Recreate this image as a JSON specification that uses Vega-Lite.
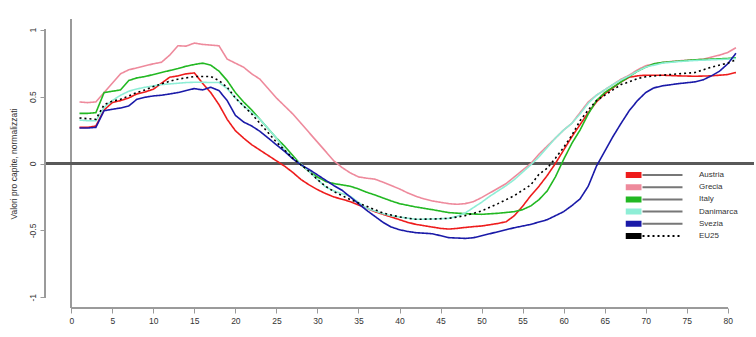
{
  "$schema": "https://vega.github.io/schema/vega-lite/v6.json",
  "width": 709,
  "height": 289,
  "autosize": {"type": "none"},
  "padding": {"left": 45, "top": 19, "right": 2, "bottom": 29},
  "background": "white",
  "config": {
    "view": {"stroke": null},
    "font": "Liberation Sans",
    "axis": {"labelFont": "Liberation Sans", "titleFont": "Liberation Sans"},
    "legend": {"labelFont": "Liberation Sans"}
  },
  "data": {"values": [
    {"s":"Austria","x":1,"y":0.27},{"s":"Austria","x":2,"y":0.27},{"s":"Austria","x":3,"y":0.28},{"s":"Austria","x":4,"y":0.40},{"s":"Austria","x":5,"y":0.455},{"s":"Austria","x":6,"y":0.47},{"s":"Austria","x":7,"y":0.49},{"s":"Austria","x":8,"y":0.52},{"s":"Austria","x":9,"y":0.535},{"s":"Austria","x":10,"y":0.555},{"s":"Austria","x":11,"y":0.60},{"s":"Austria","x":12,"y":0.645},{"s":"Austria","x":13,"y":0.655},{"s":"Austria","x":14,"y":0.67},{"s":"Austria","x":15,"y":0.677},{"s":"Austria","x":16,"y":0.60},{"s":"Austria","x":17,"y":0.53},{"s":"Austria","x":18,"y":0.44},{"s":"Austria","x":19,"y":0.33},{"s":"Austria","x":20,"y":0.245},{"s":"Austria","x":21,"y":0.19},{"s":"Austria","x":22,"y":0.14},{"s":"Austria","x":23,"y":0.10},{"s":"Austria","x":24,"y":0.06},{"s":"Austria","x":25,"y":0.02},{"s":"Austria","x":26,"y":-0.02},{"s":"Austria","x":27,"y":-0.067},{"s":"Austria","x":28,"y":-0.12},{"s":"Austria","x":29,"y":-0.16},{"s":"Austria","x":30,"y":-0.195},{"s":"Austria","x":31,"y":-0.225},{"s":"Austria","x":32,"y":-0.25},{"s":"Austria","x":33,"y":-0.267},{"s":"Austria","x":34,"y":-0.285},{"s":"Austria","x":35,"y":-0.31},{"s":"Austria","x":36,"y":-0.335},{"s":"Austria","x":37,"y":-0.36},{"s":"Austria","x":38,"y":-0.38},{"s":"Austria","x":39,"y":-0.40},{"s":"Austria","x":40,"y":-0.42},{"s":"Austria","x":41,"y":-0.44},{"s":"Austria","x":42,"y":-0.455},{"s":"Austria","x":43,"y":-0.465},{"s":"Austria","x":44,"y":-0.475},{"s":"Austria","x":45,"y":-0.485},{"s":"Austria","x":46,"y":-0.49},{"s":"Austria","x":47,"y":-0.485},{"s":"Austria","x":48,"y":-0.478},{"s":"Austria","x":49,"y":-0.472},{"s":"Austria","x":50,"y":-0.467},{"s":"Austria","x":51,"y":-0.458},{"s":"Austria","x":52,"y":-0.448},{"s":"Austria","x":53,"y":-0.435},{"s":"Austria","x":54,"y":-0.39},{"s":"Austria","x":55,"y":-0.32},{"s":"Austria","x":56,"y":-0.24},{"s":"Austria","x":57,"y":-0.17},{"s":"Austria","x":58,"y":-0.09},{"s":"Austria","x":59,"y":0.0},{"s":"Austria","x":60,"y":0.10},{"s":"Austria","x":61,"y":0.20},{"s":"Austria","x":62,"y":0.29},{"s":"Austria","x":63,"y":0.38},{"s":"Austria","x":64,"y":0.46},{"s":"Austria","x":65,"y":0.52},{"s":"Austria","x":66,"y":0.565},{"s":"Austria","x":67,"y":0.61},{"s":"Austria","x":68,"y":0.645},{"s":"Austria","x":69,"y":0.655},{"s":"Austria","x":70,"y":0.66},{"s":"Austria","x":72,"y":0.66},{"s":"Austria","x":74,"y":0.655},{"s":"Austria","x":76,"y":0.652},{"s":"Austria","x":78,"y":0.655},{"s":"Austria","x":80,"y":0.665},{"s":"Austria","x":81,"y":0.68},

    {"s":"Grecia","x":1,"y":0.46},{"s":"Grecia","x":2,"y":0.455},{"s":"Grecia","x":3,"y":0.46},{"s":"Grecia","x":4,"y":0.53},{"s":"Grecia","x":5,"y":0.60},{"s":"Grecia","x":6,"y":0.67},{"s":"Grecia","x":7,"y":0.70},{"s":"Grecia","x":8,"y":0.715},{"s":"Grecia","x":9,"y":0.73},{"s":"Grecia","x":10,"y":0.745},{"s":"Grecia","x":11,"y":0.757},{"s":"Grecia","x":12,"y":0.81},{"s":"Grecia","x":13,"y":0.88},{"s":"Grecia","x":14,"y":0.877},{"s":"Grecia","x":15,"y":0.90},{"s":"Grecia","x":16,"y":0.89},{"s":"Grecia","x":17,"y":0.885},{"s":"Grecia","x":18,"y":0.88},{"s":"Grecia","x":19,"y":0.78},{"s":"Grecia","x":20,"y":0.75},{"s":"Grecia","x":21,"y":0.72},{"s":"Grecia","x":22,"y":0.67},{"s":"Grecia","x":23,"y":0.63},{"s":"Grecia","x":24,"y":0.56},{"s":"Grecia","x":25,"y":0.49},{"s":"Grecia","x":26,"y":0.43},{"s":"Grecia","x":27,"y":0.37},{"s":"Grecia","x":28,"y":0.30},{"s":"Grecia","x":29,"y":0.23},{"s":"Grecia","x":30,"y":0.16},{"s":"Grecia","x":31,"y":0.09},{"s":"Grecia","x":32,"y":0.02},{"s":"Grecia","x":33,"y":-0.03},{"s":"Grecia","x":34,"y":-0.07},{"s":"Grecia","x":35,"y":-0.10},{"s":"Grecia","x":36,"y":-0.11},{"s":"Grecia","x":37,"y":-0.117},{"s":"Grecia","x":38,"y":-0.14},{"s":"Grecia","x":39,"y":-0.165},{"s":"Grecia","x":40,"y":-0.19},{"s":"Grecia","x":41,"y":-0.22},{"s":"Grecia","x":42,"y":-0.245},{"s":"Grecia","x":43,"y":-0.265},{"s":"Grecia","x":44,"y":-0.28},{"s":"Grecia","x":45,"y":-0.29},{"s":"Grecia","x":46,"y":-0.30},{"s":"Grecia","x":47,"y":-0.305},{"s":"Grecia","x":48,"y":-0.30},{"s":"Grecia","x":49,"y":-0.285},{"s":"Grecia","x":50,"y":-0.255},{"s":"Grecia","x":51,"y":-0.22},{"s":"Grecia","x":52,"y":-0.185},{"s":"Grecia","x":53,"y":-0.15},{"s":"Grecia","x":54,"y":-0.10},{"s":"Grecia","x":55,"y":-0.05},{"s":"Grecia","x":56,"y":0.0},{"s":"Grecia","x":57,"y":0.07},{"s":"Grecia","x":58,"y":0.13},{"s":"Grecia","x":59,"y":0.19},{"s":"Grecia","x":60,"y":0.25},{"s":"Grecia","x":61,"y":0.30},{"s":"Grecia","x":62,"y":0.38},{"s":"Grecia","x":63,"y":0.46},{"s":"Grecia","x":64,"y":0.51},{"s":"Grecia","x":65,"y":0.55},{"s":"Grecia","x":66,"y":0.59},{"s":"Grecia","x":67,"y":0.63},{"s":"Grecia","x":68,"y":0.66},{"s":"Grecia","x":69,"y":0.70},{"s":"Grecia","x":70,"y":0.73},{"s":"Grecia","x":71,"y":0.745},{"s":"Grecia","x":72,"y":0.755},{"s":"Grecia","x":73,"y":0.762},{"s":"Grecia","x":74,"y":0.767},{"s":"Grecia","x":75,"y":0.772},{"s":"Grecia","x":76,"y":0.775},{"s":"Grecia","x":77,"y":0.78},{"s":"Grecia","x":78,"y":0.795},{"s":"Grecia","x":79,"y":0.81},{"s":"Grecia","x":80,"y":0.83},{"s":"Grecia","x":81,"y":0.865},

    {"s":"Italy","x":1,"y":0.375},{"s":"Italy","x":2,"y":0.375},{"s":"Italy","x":3,"y":0.38},{"s":"Italy","x":4,"y":0.53},{"s":"Italy","x":5,"y":0.54},{"s":"Italy","x":6,"y":0.55},{"s":"Italy","x":7,"y":0.62},{"s":"Italy","x":8,"y":0.64},{"s":"Italy","x":9,"y":0.65},{"s":"Italy","x":10,"y":0.665},{"s":"Italy","x":11,"y":0.68},{"s":"Italy","x":12,"y":0.695},{"s":"Italy","x":13,"y":0.71},{"s":"Italy","x":14,"y":0.727},{"s":"Italy","x":15,"y":0.74},{"s":"Italy","x":16,"y":0.75},{"s":"Italy","x":17,"y":0.735},{"s":"Italy","x":18,"y":0.69},{"s":"Italy","x":19,"y":0.62},{"s":"Italy","x":20,"y":0.53},{"s":"Italy","x":21,"y":0.46},{"s":"Italy","x":22,"y":0.40},{"s":"Italy","x":23,"y":0.33},{"s":"Italy","x":24,"y":0.26},{"s":"Italy","x":25,"y":0.19},{"s":"Italy","x":26,"y":0.13},{"s":"Italy","x":27,"y":0.06},{"s":"Italy","x":28,"y":-0.01},{"s":"Italy","x":29,"y":-0.06},{"s":"Italy","x":30,"y":-0.10},{"s":"Italy","x":31,"y":-0.135},{"s":"Italy","x":32,"y":-0.15},{"s":"Italy","x":33,"y":-0.16},{"s":"Italy","x":34,"y":-0.17},{"s":"Italy","x":35,"y":-0.19},{"s":"Italy","x":36,"y":-0.215},{"s":"Italy","x":37,"y":-0.235},{"s":"Italy","x":38,"y":-0.258},{"s":"Italy","x":39,"y":-0.28},{"s":"Italy","x":40,"y":-0.30},{"s":"Italy","x":42,"y":-0.325},{"s":"Italy","x":44,"y":-0.345},{"s":"Italy","x":46,"y":-0.367},{"s":"Italy","x":48,"y":-0.375},{"s":"Italy","x":50,"y":-0.38},{"s":"Italy","x":52,"y":-0.372},{"s":"Italy","x":54,"y":-0.36},{"s":"Italy","x":55,"y":-0.345},{"s":"Italy","x":56,"y":-0.317},{"s":"Italy","x":57,"y":-0.27},{"s":"Italy","x":58,"y":-0.205},{"s":"Italy","x":59,"y":-0.10},{"s":"Italy","x":60,"y":0.03},{"s":"Italy","x":61,"y":0.15},{"s":"Italy","x":62,"y":0.25},{"s":"Italy","x":63,"y":0.37},{"s":"Italy","x":64,"y":0.47},{"s":"Italy","x":65,"y":0.53},{"s":"Italy","x":66,"y":0.57},{"s":"Italy","x":67,"y":0.61},{"s":"Italy","x":68,"y":0.65},{"s":"Italy","x":69,"y":0.69},{"s":"Italy","x":70,"y":0.72},{"s":"Italy","x":71,"y":0.745},{"s":"Italy","x":72,"y":0.755},{"s":"Italy","x":74,"y":0.765},{"s":"Italy","x":76,"y":0.775},{"s":"Italy","x":78,"y":0.78},{"s":"Italy","x":80,"y":0.785},{"s":"Italy","x":81,"y":0.79},

    {"s":"Danimarca","x":1,"y":0.325},{"s":"Danimarca","x":2,"y":0.32},{"s":"Danimarca","x":3,"y":0.32},{"s":"Danimarca","x":4,"y":0.42},{"s":"Danimarca","x":5,"y":0.47},{"s":"Danimarca","x":6,"y":0.51},{"s":"Danimarca","x":7,"y":0.54},{"s":"Danimarca","x":8,"y":0.557},{"s":"Danimarca","x":9,"y":0.57},{"s":"Danimarca","x":10,"y":0.58},{"s":"Danimarca","x":11,"y":0.59},{"s":"Danimarca","x":12,"y":0.595},{"s":"Danimarca","x":13,"y":0.60},{"s":"Danimarca","x":14,"y":0.605},{"s":"Danimarca","x":15,"y":0.607},{"s":"Danimarca","x":16,"y":0.607},{"s":"Danimarca","x":17,"y":0.605},{"s":"Danimarca","x":18,"y":0.605},{"s":"Danimarca","x":19,"y":0.56},{"s":"Danimarca","x":20,"y":0.49},{"s":"Danimarca","x":21,"y":0.43},{"s":"Danimarca","x":22,"y":0.38},{"s":"Danimarca","x":23,"y":0.33},{"s":"Danimarca","x":24,"y":0.26},{"s":"Danimarca","x":25,"y":0.19},{"s":"Danimarca","x":26,"y":0.10},{"s":"Danimarca","x":27,"y":0.04},{"s":"Danimarca","x":28,"y":-0.005},{"s":"Danimarca","x":29,"y":-0.06},{"s":"Danimarca","x":30,"y":-0.12},{"s":"Danimarca","x":31,"y":-0.175},{"s":"Danimarca","x":32,"y":-0.205},{"s":"Danimarca","x":33,"y":-0.225},{"s":"Danimarca","x":34,"y":-0.245},{"s":"Danimarca","x":35,"y":-0.29},{"s":"Danimarca","x":36,"y":-0.335},{"s":"Danimarca","x":37,"y":-0.355},{"s":"Danimarca","x":38,"y":-0.375},{"s":"Danimarca","x":39,"y":-0.39},{"s":"Danimarca","x":40,"y":-0.40},{"s":"Danimarca","x":42,"y":-0.417},{"s":"Danimarca","x":44,"y":-0.415},{"s":"Danimarca","x":46,"y":-0.41},{"s":"Danimarca","x":47,"y":-0.395},{"s":"Danimarca","x":48,"y":-0.37},{"s":"Danimarca","x":49,"y":-0.33},{"s":"Danimarca","x":50,"y":-0.29},{"s":"Danimarca","x":51,"y":-0.245},{"s":"Danimarca","x":52,"y":-0.205},{"s":"Danimarca","x":53,"y":-0.165},{"s":"Danimarca","x":54,"y":-0.12},{"s":"Danimarca","x":55,"y":-0.065},{"s":"Danimarca","x":56,"y":-0.01},{"s":"Danimarca","x":57,"y":0.05},{"s":"Danimarca","x":58,"y":0.12},{"s":"Danimarca","x":59,"y":0.19},{"s":"Danimarca","x":60,"y":0.25},{"s":"Danimarca","x":61,"y":0.30},{"s":"Danimarca","x":62,"y":0.37},{"s":"Danimarca","x":63,"y":0.45},{"s":"Danimarca","x":64,"y":0.51},{"s":"Danimarca","x":65,"y":0.55},{"s":"Danimarca","x":66,"y":0.59},{"s":"Danimarca","x":67,"y":0.625},{"s":"Danimarca","x":68,"y":0.655},{"s":"Danimarca","x":69,"y":0.69},{"s":"Danimarca","x":70,"y":0.72},{"s":"Danimarca","x":72,"y":0.75},{"s":"Danimarca","x":74,"y":0.762},{"s":"Danimarca","x":76,"y":0.77},{"s":"Danimarca","x":78,"y":0.775},{"s":"Danimarca","x":80,"y":0.78},{"s":"Danimarca","x":81,"y":0.785},

    {"s":"Svezia","x":1,"y":0.265},{"s":"Svezia","x":2,"y":0.265},{"s":"Svezia","x":3,"y":0.27},{"s":"Svezia","x":4,"y":0.395},{"s":"Svezia","x":5,"y":0.405},{"s":"Svezia","x":6,"y":0.415},{"s":"Svezia","x":7,"y":0.43},{"s":"Svezia","x":8,"y":0.48},{"s":"Svezia","x":9,"y":0.495},{"s":"Svezia","x":10,"y":0.505},{"s":"Svezia","x":11,"y":0.51},{"s":"Svezia","x":12,"y":0.52},{"s":"Svezia","x":13,"y":0.53},{"s":"Svezia","x":14,"y":0.545},{"s":"Svezia","x":15,"y":0.56},{"s":"Svezia","x":16,"y":0.55},{"s":"Svezia","x":17,"y":0.57},{"s":"Svezia","x":18,"y":0.545},{"s":"Svezia","x":19,"y":0.47},{"s":"Svezia","x":20,"y":0.36},{"s":"Svezia","x":21,"y":0.31},{"s":"Svezia","x":22,"y":0.28},{"s":"Svezia","x":23,"y":0.24},{"s":"Svezia","x":24,"y":0.19},{"s":"Svezia","x":25,"y":0.14},{"s":"Svezia","x":26,"y":0.09},{"s":"Svezia","x":27,"y":0.035},{"s":"Svezia","x":28,"y":-0.01},{"s":"Svezia","x":29,"y":-0.045},{"s":"Svezia","x":30,"y":-0.085},{"s":"Svezia","x":31,"y":-0.125},{"s":"Svezia","x":32,"y":-0.165},{"s":"Svezia","x":33,"y":-0.20},{"s":"Svezia","x":34,"y":-0.25},{"s":"Svezia","x":35,"y":-0.30},{"s":"Svezia","x":36,"y":-0.35},{"s":"Svezia","x":37,"y":-0.395},{"s":"Svezia","x":38,"y":-0.44},{"s":"Svezia","x":39,"y":-0.475},{"s":"Svezia","x":40,"y":-0.495},{"s":"Svezia","x":41,"y":-0.508},{"s":"Svezia","x":42,"y":-0.517},{"s":"Svezia","x":44,"y":-0.525},{"s":"Svezia","x":46,"y":-0.554},{"s":"Svezia","x":48,"y":-0.56},{"s":"Svezia","x":49,"y":-0.555},{"s":"Svezia","x":50,"y":-0.54},{"s":"Svezia","x":51,"y":-0.525},{"s":"Svezia","x":52,"y":-0.51},{"s":"Svezia","x":53,"y":-0.495},{"s":"Svezia","x":54,"y":-0.48},{"s":"Svezia","x":56,"y":-0.455},{"s":"Svezia","x":58,"y":-0.42},{"s":"Svezia","x":60,"y":-0.36},{"s":"Svezia","x":61,"y":-0.315},{"s":"Svezia","x":62,"y":-0.265},{"s":"Svezia","x":63,"y":-0.17},{"s":"Svezia","x":64,"y":-0.02},{"s":"Svezia","x":65,"y":0.09},{"s":"Svezia","x":66,"y":0.20},{"s":"Svezia","x":67,"y":0.30},{"s":"Svezia","x":68,"y":0.395},{"s":"Svezia","x":69,"y":0.47},{"s":"Svezia","x":70,"y":0.53},{"s":"Svezia","x":71,"y":0.565},{"s":"Svezia","x":72,"y":0.58},{"s":"Svezia","x":74,"y":0.597},{"s":"Svezia","x":76,"y":0.61},{"s":"Svezia","x":77,"y":0.625},{"s":"Svezia","x":78,"y":0.655},{"s":"Svezia","x":79,"y":0.69},{"s":"Svezia","x":80,"y":0.745},{"s":"Svezia","x":81,"y":0.824},

    {"s":"EU25","x":1,"y":0.34},{"s":"EU25","x":2,"y":0.335},{"s":"EU25","x":3,"y":0.33},{"s":"EU25","x":4,"y":0.44},{"s":"EU25","x":5,"y":0.465},{"s":"EU25","x":6,"y":0.48},{"s":"EU25","x":7,"y":0.505},{"s":"EU25","x":8,"y":0.53},{"s":"EU25","x":9,"y":0.55},{"s":"EU25","x":10,"y":0.575},{"s":"EU25","x":11,"y":0.595},{"s":"EU25","x":12,"y":0.615},{"s":"EU25","x":13,"y":0.63},{"s":"EU25","x":14,"y":0.64},{"s":"EU25","x":15,"y":0.65},{"s":"EU25","x":16,"y":0.65},{"s":"EU25","x":17,"y":0.65},{"s":"EU25","x":18,"y":0.62},{"s":"EU25","x":19,"y":0.57},{"s":"EU25","x":20,"y":0.49},{"s":"EU25","x":21,"y":0.43},{"s":"EU25","x":22,"y":0.37},{"s":"EU25","x":23,"y":0.30},{"s":"EU25","x":24,"y":0.23},{"s":"EU25","x":25,"y":0.16},{"s":"EU25","x":26,"y":0.10},{"s":"EU25","x":27,"y":0.04},{"s":"EU25","x":28,"y":-0.01},{"s":"EU25","x":29,"y":-0.06},{"s":"EU25","x":30,"y":-0.12},{"s":"EU25","x":31,"y":-0.17},{"s":"EU25","x":32,"y":-0.21},{"s":"EU25","x":33,"y":-0.24},{"s":"EU25","x":34,"y":-0.27},{"s":"EU25","x":35,"y":-0.295},{"s":"EU25","x":36,"y":-0.32},{"s":"EU25","x":37,"y":-0.345},{"s":"EU25","x":38,"y":-0.37},{"s":"EU25","x":39,"y":-0.385},{"s":"EU25","x":40,"y":-0.40},{"s":"EU25","x":42,"y":-0.417},{"s":"EU25","x":44,"y":-0.415},{"s":"EU25","x":46,"y":-0.41},{"s":"EU25","x":48,"y":-0.39},{"s":"EU25","x":50,"y":-0.355},{"s":"EU25","x":52,"y":-0.30},{"s":"EU25","x":54,"y":-0.24},{"s":"EU25","x":55,"y":-0.20},{"s":"EU25","x":56,"y":-0.16},{"s":"EU25","x":57,"y":-0.08},{"s":"EU25","x":58,"y":-0.035},{"s":"EU25","x":59,"y":0.04},{"s":"EU25","x":60,"y":0.12},{"s":"EU25","x":61,"y":0.21},{"s":"EU25","x":62,"y":0.32},{"s":"EU25","x":63,"y":0.40},{"s":"EU25","x":64,"y":0.47},{"s":"EU25","x":65,"y":0.51},{"s":"EU25","x":66,"y":0.55},{"s":"EU25","x":67,"y":0.59},{"s":"EU25","x":68,"y":0.61},{"s":"EU25","x":69,"y":0.635},{"s":"EU25","x":70,"y":0.648},{"s":"EU25","x":72,"y":0.66},{"s":"EU25","x":74,"y":0.67},{"s":"EU25","x":76,"y":0.68},{"s":"EU25","x":78,"y":0.72},{"s":"EU25","x":80,"y":0.75},{"s":"EU25","x":81,"y":0.775}
  ]},
  "layer": [
    {
      "mark": {"type": "rule", "color": "#9a9a9a", "strokeWidth": 1},
      "encoding": {"x": {"datum": 0, "type": "quantitative"}}
    },
    {
      "mark": {"type": "rule", "color": "#5a5a5a", "strokeWidth": 1.6},
      "encoding": {"y": {"datum": 0, "type": "quantitative"}}
    },
    {
      "mark": {"type": "rule", "color": "#9a9a9a", "strokeWidth": 1},
      "encoding": {"x": {"datum": 0, "type": "quantitative"}, "x2": {"datum": 80}, "y": {"datum": -1.08, "type": "quantitative"}}
    },
    {
      "mark": {"type": "rule", "color": "#9a9a9a", "strokeWidth": 1},
      "encoding": {"x": {"datum": -3.2, "type": "quantitative"}, "y": {"datum": -1, "type": "quantitative"}, "y2": {"datum": 1}}
    },
    {
      "mark": {"type": "line", "strokeWidth": 1.6},
      "encoding": {
        "x": {
          "field": "x", "type": "quantitative",
          "scale": {"domain": [-3.2, 83.2], "nice": false, "zero": false},
          "axis": {"values": [0,5,10,15,20,25,30,35,40,45,50,55,60,65,70,75,80], "domain": false, "grid": false, "tickColor": "#9a9a9a", "tickSize": 5, "labelFontSize": 8.5, "labelColor": "#333333", "labelPadding": 3, "title": null}
        },
        "y": {
          "field": "y", "type": "quantitative",
          "scale": {"domain": [-1.08, 1.08], "nice": false, "zero": false},
          "axis": {"values": [-1,-0.5,0,0.5,1], "domain": false, "grid": false, "tickColor": "#9a9a9a", "tickSize": 5, "labelFontSize": 8.5, "labelColor": "#333333", "labelPadding": 3, "labelAngle": 270, "labelAlign": "center", "labelBaseline": "bottom", "labelExpr": "'' + datum.value", "title": "Valori pro capite, normalizzati", "titleFontSize": 8.5, "titleFontWeight": "normal", "titleColor": "#333333", "titlePadding": 10}
        },
        "color": {
          "field": "s", "type": "nominal",
          "scale": {"domain": ["Austria","Grecia","Italy","Danimarca","Svezia","EU25"], "range": ["#ee1c1c","#ee8a9c","#22b822","#8eeed6","#1a1aa8","#000000"]},
          "legend": {
            "orient": "none", "legendX": 580.5, "legendY": 150, "title": null, "padding": 0,
            "symbolType": "M-1,-0.5H1.667V0.5H-1Z", "symbolSize": 144, "symbolStrokeWidth": 2,
            "clipHeight": 12,
            "labelOffset": 61.5, "labelFontSize": 8, "labelColor": "#333333", "rowPadding": 0.2,
            "encode": {"symbols": {"update": {"fill": {"scale": "color", "field": "value"}, "stroke": {"value": "transparent"}, "strokeWidth": {"value": 0}, "opacity": {"value": 1}}}}
          }
        },
        "strokeDash": {
          "field": "s", "type": "nominal",
          "sort": ["Austria","Grecia","Italy","Danimarca","Svezia","EU25"],
          "scale": {"range": [[1,0],[1,0],[1,0],[1,0],[1,0],[2,3]]},
          "legend": {
            "orient": "none", "legendX": 580.5, "legendY": 150, "title": null, "padding": 0,
            "symbolType": "M1.667,0H8.333", "symbolSize": 144, "symbolStrokeWidth": 2,
            "clipHeight": 12,
            "labelOffset": 61.5, "labelFontSize": 8, "labelExpr": "''", "rowPadding": 0.2,
            "encode": {"symbols": {"update": {"stroke": {"signal": "datum.value === 'EU25' ? '#000000' : '#777777'"}, "opacity": {"value": 1}}}}
          }
        }
      }
    }
  ]
}
